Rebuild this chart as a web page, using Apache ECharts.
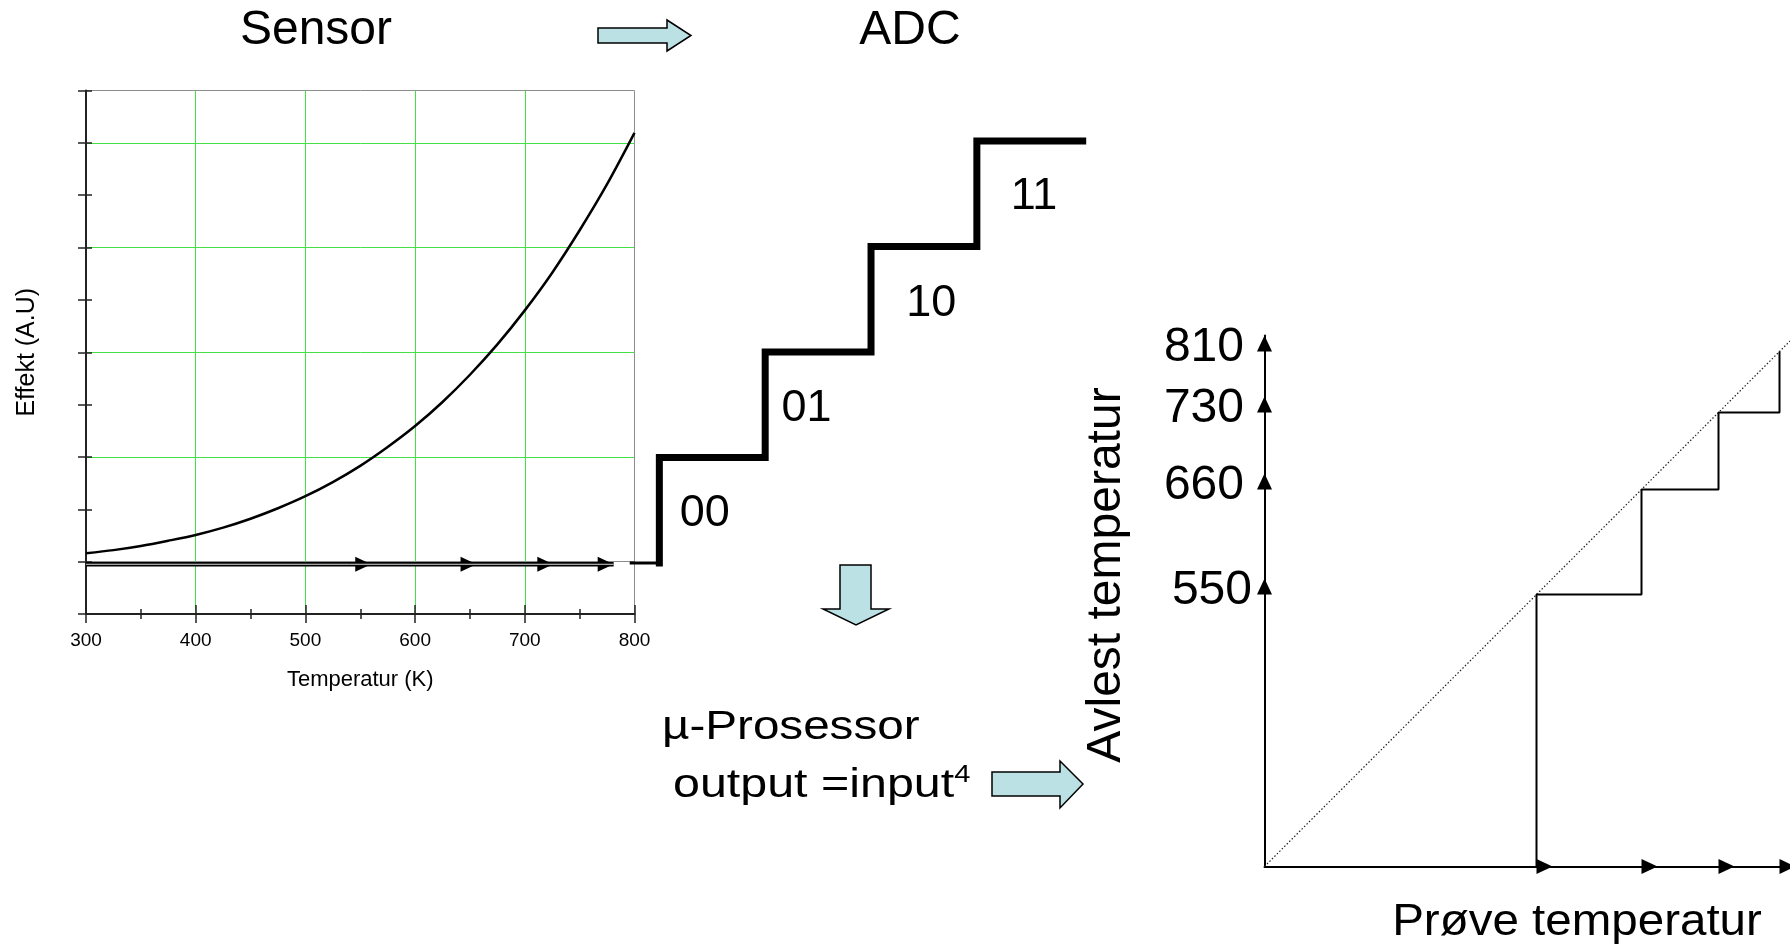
<!DOCTYPE html>
<html>
<head>
<meta charset="utf-8">
<script src="https://cdn.jsdelivr.net/npm/echarts@6/dist/echarts.min.js"></script>
<style>
  html, body { margin: 0; padding: 0; background: #fff; }
  #main { width: 1790px; height: 950px; }
</style>
</head>
<body>
<div id="main"></div>
<script>
// ===================== data =====================
// Sensor: effekt mot temperatur
let temperatur = [300, 325, 350, 375, 400, 425, 450, 475, 500, 525, 550, 575, 600,
                  625, 650, 675, 700, 725, 750, 775, 800];
let effekt = [0.16, 0.22, 0.30, 0.40, 0.51, 0.65, 0.82, 1.02, 1.25, 1.52, 1.83, 2.19, 2.59,
              3.05, 3.57, 4.15, 4.80, 5.52, 6.33, 7.21, 8.19];
let pilStart = 300;
let pilTupper = [560, 656, 726, 781];
let pilNivaa = -0.05;

// ADC trapp
let adcTrinn = [0, 1, 2, 3, 4];
let adcStart = -0.28;
let adcKoder = ['00', '01', '10', '11'];
let adcKodeX = [0.43, 1.39, 2.57, 3.54];
let adcKodeY = [0.47, 1.46, 2.46, 3.47];

// Avlest mot prove temperatur (skjematisk akse)
let avlestTemp = ['550', '660', '730', '810'];
let trinnPos = [2.72, 3.77, 4.54, 5.15];

// ===================== styles =====================
const font = 'Liberation Sans, Arial, sans-serif';
const green = '#45e045';
const frame = '#8c8c8c';
const blank = 'rgba(0,0,0,0)';
const blaa = '#BBE1E4';

const dom = document.getElementById('main');
const chart = echarts.init(dom, null, {renderer: 'canvas'});

// trapp i diagrammet til hoyre
let trappData = [[trinnPos[0], 0]];
for (let i = 1; i < trinnPos.length; i++) {
  trappData.push([trinnPos[i], trinnPos[i - 1]]);
}
trappData.push([trinnPos[trinnPos.length - 1], trinnPos[trinnPos.length - 1]]);

let arrowUp = {
  type: 'scatter', symbol: 'triangle', symbolSize: [15, 16], clip: false, silent: true,
  itemStyle: {color: '#000', opacity: 1}
};

let option = {
  animation: false,
  backgroundColor: '#fff',
  grid: [
    {left: 86, top: 90.5, width: 548.5, height: 523.5},
    {left: 627.6, top: 141, width: 455.1, height: 422},
    {left: 1264.5, top: 335.5, width: 525.5, height: 531}
  ],
  xAxis: [
    {
      gridIndex: 0, type: 'value', min: 300, max: 800, interval: 100, position: 'bottom',
      name: 'Temperatur (K)', nameLocation: 'middle', nameGap: 55,
      nameTextStyle: {color: '#000', fontSize: 22, fontFamily: font},
      axisLine: {onZero: false, lineStyle: {color: '#222', width: 2}},
      axisTick: {length: 9, lineStyle: {color: '#222', width: 1.5}},
      minorTick: {show: true, splitNumber: 2, length: 5, lineStyle: {color: '#222', width: 1.5}},
      axisLabel: {color: '#000', fontSize: 19, fontFamily: font, margin: 17},
      splitLine: {show: true, lineStyle: {color: [blank, green, green, green, green, frame], width: 1}}
    },
    {
      gridIndex: 0, type: 'value', min: 300, max: 800, interval: 100, position: 'bottom',
      axisLine: {show: false, onZero: false},
      axisTick: {inside: true, length: 9, lineStyle: {color: '#222', width: 1.5}},
      minorTick: {show: true, splitNumber: 2, length: 5, lineStyle: {color: '#222', width: 1.5}},
      axisLabel: {show: false}, splitLine: {show: false}
    },
    {gridIndex: 1, type: 'value', min: -0.3, max: 4, show: false},
    {
      gridIndex: 2, type: 'value', min: 0, max: 5.255,
      axisLine: {onZero: false, lineStyle: {color: '#000', width: 2}},
      axisTick: {show: false}, axisLabel: {show: false}, splitLine: {show: false}
    }
  ],
  yAxis: [
    {
      gridIndex: 0, type: 'value', min: -1, max: 9, interval: 1, position: 'left',
      name: 'Effekt (A.U)', nameLocation: 'middle', nameGap: 46, nameRotate: 90,
      nameTextStyle: {color: '#000', fontSize: 25, fontFamily: font},
      axisLine: {onZero: false, lineStyle: {color: '#222', width: 2}},
      axisTick: {length: 8, lineStyle: {color: '#222', width: 1.5}},
      axisLabel: {show: false},
      splitLine: {
        show: true,
        lineStyle: {color: [blank, frame, blank, green, blank, green, blank, green, blank, green, frame], width: 1}
      }
    },
    {
      gridIndex: 0, type: 'value', min: -1, max: 9, interval: 1, position: 'left',
      axisLine: {show: false, onZero: false},
      axisTick: {inside: true, length: 6, lineStyle: {color: '#222', width: 1.5}},
      axisLabel: {show: false}, splitLine: {show: false}
    },
    {gridIndex: 1, type: 'value', min: 0, max: 4, show: false},
    {
      gridIndex: 2, type: 'value', min: 0, max: 5.31,
      axisLine: {onZero: false, lineStyle: {color: '#000', width: 2}},
      axisTick: {show: false}, axisLabel: {show: false}, splitLine: {show: false}
    }
  ],
  series: [
    // ----- sensor -----
    {
      name: 'Effekt', type: 'line', xAxisIndex: 0, yAxisIndex: 0,
      smooth: 0.3, symbol: 'none',
      data: temperatur.map((t, i) => [t, effekt[i]]),
      lineStyle: {color: '#000', width: 2.5}
    },
    {
      type: 'line', xAxisIndex: 0, yAxisIndex: 0, symbol: 'none', silent: true,
      data: [[pilStart, pilNivaa], [pilTupper[pilTupper.length - 1], pilNivaa]],
      lineStyle: {color: '#000', width: 4.5}
    },
    {
      type: 'line', xAxisIndex: 0, yAxisIndex: 0, symbol: 'none', silent: true,
      data: [[pilStart, pilNivaa], [pilTupper[pilTupper.length - 1], pilNivaa]],
      lineStyle: {color: '#d8d8d8', width: 1}
    },
    Object.assign({}, arrowUp, {
      xAxisIndex: 0, yAxisIndex: 0, symbolRotate: -90, symbolOffset: [-8, 0],
      data: pilTupper.map(t => [t, pilNivaa])
    }),
    // ----- ADC -----
    {
      type: 'line', xAxisIndex: 2, yAxisIndex: 2, symbol: 'none', clip: false,
      data: [[adcStart, 0], [0, 0]],
      lineStyle: {color: '#000', width: 3}
    },
    {
      name: 'ADC', type: 'line', xAxisIndex: 2, yAxisIndex: 2, symbol: 'none', clip: false, step: 'start',
      data: adcTrinn.map(v => [v, v]),
      lineStyle: {color: '#000', width: 7, join: 'miter', cap: 'square'}
    },
    {
      type: 'scatter', xAxisIndex: 2, yAxisIndex: 2, symbolSize: 1, clip: false, silent: true,
      itemStyle: {color: blank, opacity: 1},
      data: adcKoder.map((k, i) => ({value: [adcKodeX[i], adcKodeY[i]], name: k})),
      label: {
        show: true, position: 'inside', formatter: '{b}', opacity: 1,
        color: '#000', fontSize: 45, fontFamily: font
      }
    },
    // ----- avlest mot prove -----
    {
      type: 'line', xAxisIndex: 3, yAxisIndex: 3, symbol: 'none', clip: false,
      data: [[0, 0], [5.255, 5.255]],
      lineStyle: {color: '#222', width: 1.2, type: [1.5, 2]}
    },
    {
      name: 'Avlest', type: 'line', xAxisIndex: 3, yAxisIndex: 3, symbol: 'none', clip: false, step: 'start',
      data: trappData,
      lineStyle: {color: '#000', width: 2}
    },
    Object.assign({}, arrowUp, {
      xAxisIndex: 3, yAxisIndex: 3, symbolOffset: [0, -8],
      data: trinnPos.map(p => [0, p])
    }),
    Object.assign({}, arrowUp, {
      xAxisIndex: 3, yAxisIndex: 3, symbolRotate: -90, symbolOffset: [8, 0],
      data: trinnPos.map(p => [p, 0])
    }),
    {
      type: 'scatter', xAxisIndex: 3, yAxisIndex: 3, symbolSize: 1, clip: false, silent: true,
      itemStyle: {color: blank, opacity: 1},
      data: avlestTemp.map((t, i) => ({
        value: [0, trinnPos[i]], name: t,
        label: {distance: i === 0 ? 12 : 20}
      })),
      label: {
        show: true, position: 'left', formatter: '{b}', offset: [0, -4], opacity: 1,
        color: '#000', fontSize: 48, fontFamily: font
      }
    }
  ],
  graphic: [
    // blokkpiler
    {
      type: 'polygon', silent: true,
      shape: {points: [[598, 28], [667, 28], [667, 20], [691, 35.5], [667, 51], [667, 43], [598, 43]]},
      style: {fill: blaa, stroke: '#000', lineWidth: 1.5}
    },
    {
      type: 'polygon', silent: true,
      shape: {points: [[840, 565], [871, 565], [871, 609], [889, 609], [856, 625], [823, 609], [840, 609]]},
      style: {fill: blaa, stroke: '#000', lineWidth: 1.5}
    },
    {
      type: 'polygon', silent: true,
      shape: {points: [[992, 772], [1060, 772], [1060, 761], [1083, 784], [1060, 808], [1060, 796], [992, 796]]},
      style: {fill: blaa, stroke: '#000', lineWidth: 1.5}
    },
    // tekster
    {
      type: 'text', x: 316, y: 31,
      style: {text: 'Sensor', fill: '#000', fontSize: 48, fontFamily: font, align: 'center', verticalAlign: 'middle'}
    },
    {
      type: 'text', x: 910, y: 31,
      style: {text: 'ADC', fill: '#000', fontSize: 48, fontFamily: font, align: 'center', verticalAlign: 'middle'}
    },
    {
      type: 'text', x: 662, y: 728, scaleX: 1.19,
      style: {text: '\u00b5-Prosessor', fill: '#000', fontSize: 40, fontFamily: font, align: 'left', verticalAlign: 'middle'}
    },
    {
      type: 'text', x: 673, y: 786, scaleX: 1.21,
      style: {
        text: '{n|output =input}{s|4}', align: 'left', verticalAlign: 'middle',
        rich: {
          n: {fill: '#000', fontSize: 40, fontFamily: font, lineHeight: 46},
          s: {fill: '#000', fontSize: 24, fontFamily: font, lineHeight: 24, verticalAlign: 'top'}
        }
      }
    },
    {
      type: 'text', x: 1107, y: 575, rotation: Math.PI / 2,
      style: {text: 'Avlest temperatur', fill: '#000', fontSize: 48, fontFamily: font, align: 'center', verticalAlign: 'middle'}
    },
    {
      type: 'text', x: 1577, y: 923, scaleX: 1.08,
      style: {text: 'Pr\u00f8ve temperatur', fill: '#000', fontSize: 44, fontFamily: font, align: 'center', verticalAlign: 'middle'}
    }
  ]
};

option && chart.setOption(option);
</script>
</body>
</html>
